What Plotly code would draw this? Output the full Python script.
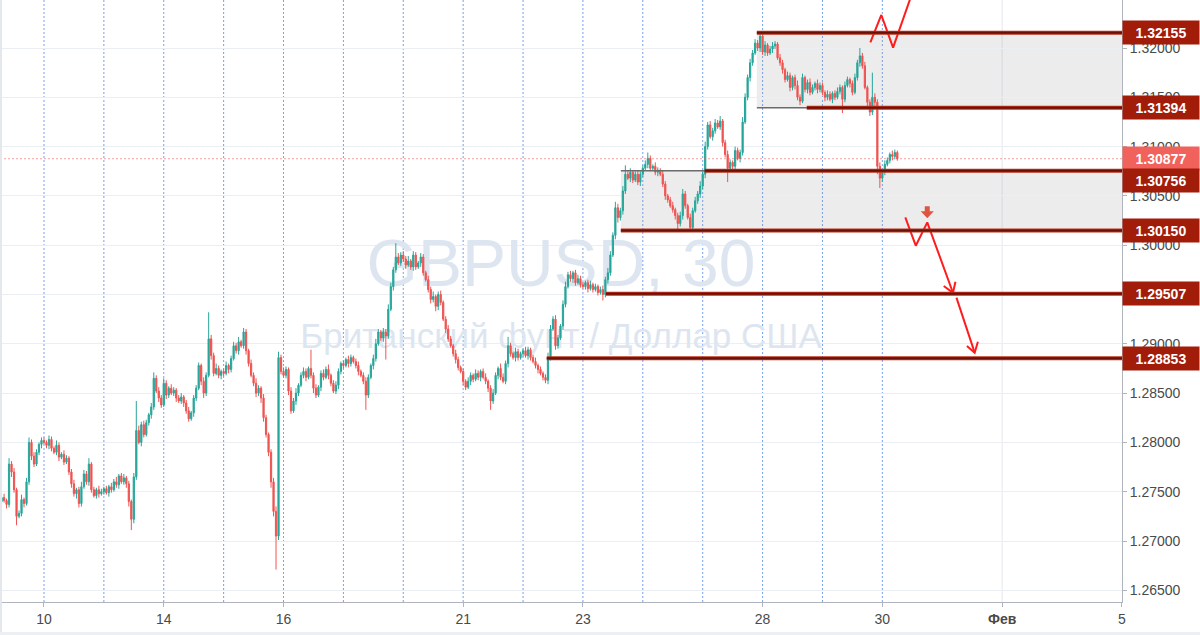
import plotly.graph_objects as go

# ---------------- GBPUSD hourly closes, one list per trading session ----------------
jan09 = [1.2744, 1.2741, 1.2737, 1.2778, 1.2770, 1.2752, 1.2725, 1.2728, 1.2742,
         1.2738, 1.2760, 1.2800, 1.2786, 1.2778, 1.2790, 1.2798, 1.2802]
jan10 = [1.2800, 1.2797, 1.2803, 1.2794, 1.2790, 1.2797, 1.2785, 1.2788, 1.2780, 1.2784,
         1.2770, 1.2758, 1.2748, 1.2752, 1.2738, 1.2755, 1.2768, 1.2760, 1.2778, 1.2752,
         1.2746, 1.2752, 1.2748, 1.2750]
jan11 = [1.2753, 1.2749, 1.2755, 1.2752, 1.2760, 1.2757, 1.2766, 1.2760, 1.2764, 1.2758,
         1.2740, 1.2722, 1.2765, 1.2812, 1.2800, 1.2818, 1.2808, 1.2820, 1.2828, 1.2836,
         1.2865, 1.2852, 1.2845, 1.2838]
jan14 = [1.2860, 1.2848, 1.2855, 1.2850, 1.2853, 1.2845, 1.2842, 1.2846, 1.2840, 1.2832,
         1.2824, 1.2830, 1.2845, 1.2855, 1.2878, 1.2862, 1.2850, 1.2868, 1.2905, 1.2888,
         1.2870, 1.2875, 1.2868, 1.2872]
jan15 = [1.2870, 1.2878, 1.2874, 1.2885, 1.2898, 1.2893, 1.2902, 1.2898, 1.2912, 1.2893,
         1.2880, 1.2868, 1.2860, 1.2850, 1.2855, 1.2845, 1.2825, 1.2808, 1.2790, 1.2760,
         1.2730, 1.2705, 1.2886, 1.2872]
jan16 = [1.2868, 1.2874, 1.2852, 1.2832, 1.2842, 1.2850, 1.2858, 1.2868, 1.2872, 1.2866,
         1.2875, 1.2868, 1.2855, 1.2848, 1.2856, 1.2870, 1.2866, 1.2874, 1.2868, 1.2860,
         1.2852, 1.2858, 1.2872, 1.2880]
jan17 = [1.2878, 1.2884, 1.2880, 1.2886, 1.2882, 1.2878, 1.2872, 1.2868, 1.2862, 1.2848,
         1.2866, 1.2878, 1.2885, 1.2900, 1.2912, 1.2906, 1.2912, 1.2908, 1.2935, 1.2958,
         1.2975, 1.2988, 1.2982, 1.2990]
jan18 = [1.2986, 1.2980, 1.2984, 1.2978, 1.2990, 1.2978, 1.2982, 1.2988, 1.2972, 1.2965,
         1.2955, 1.2945, 1.2948, 1.2938, 1.2950, 1.2942, 1.2925, 1.2915, 1.2905, 1.2898,
         1.2890, 1.2884, 1.2876, 1.2872]
jan21 = [1.2862, 1.2856, 1.2862, 1.2868, 1.2864, 1.2870, 1.2866, 1.2872, 1.2866, 1.2862,
         1.2855, 1.2842, 1.2850, 1.2868, 1.2875, 1.2866, 1.2862, 1.2880, 1.2898, 1.2890,
         1.2886, 1.2892, 1.2886, 1.2890]
jan22 = [1.2893, 1.2888, 1.2894, 1.2886, 1.2882, 1.2878, 1.2874, 1.2870, 1.2866, 1.2863,
         1.2886, 1.2915, 1.2925, 1.2898, 1.2906, 1.2918, 1.2940, 1.2958, 1.2970, 1.2966,
         1.2972, 1.2962, 1.2966, 1.2960]
jan23 = [1.2958, 1.2962, 1.2956, 1.2960, 1.2955, 1.2958, 1.2952, 1.2955, 1.2950, 1.2965,
         1.2972, 1.2990, 1.3010, 1.3038, 1.3028, 1.3035, 1.3055, 1.3072, 1.3068, 1.3074,
         1.3066, 1.3072, 1.3064, 1.3072]
jan24 = [1.3078, 1.3082, 1.3088, 1.3078, 1.3080, 1.3074, 1.3076, 1.3072, 1.3062, 1.3050,
         1.3046, 1.3040, 1.3036, 1.3030, 1.3022, 1.3030, 1.3052, 1.3040, 1.3028, 1.3018,
         1.3035, 1.3045, 1.3052, 1.3060]
jan25 = [1.3072, 1.3100, 1.3122, 1.3110, 1.3116, 1.3124, 1.3120, 1.3126, 1.3104, 1.3092,
         1.3078, 1.3084, 1.3080, 1.3096, 1.3088, 1.3094, 1.3125, 1.3150, 1.3170, 1.3185,
         1.3195, 1.3205, 1.3200, 1.3212]
jan28 = [1.3196, 1.3203, 1.3195, 1.3199, 1.3202, 1.3204, 1.3190, 1.3185, 1.3178, 1.3168,
         1.3172, 1.3160, 1.3170, 1.3162, 1.3150, 1.3146, 1.3170, 1.3158, 1.3165, 1.3155,
         1.3160, 1.3164, 1.3158, 1.3162]
jan29 = [1.3155, 1.3150, 1.3153, 1.3148, 1.3154, 1.3150, 1.3156, 1.3160, 1.3148, 1.3162,
         1.3168, 1.3164, 1.3155, 1.3170, 1.3185, 1.3192, 1.3182, 1.3160, 1.3145, 1.3135,
         1.3150, 1.3145, 1.3080, 1.3068]
jan30 = [1.3074, 1.3082, 1.3086, 1.3092, 1.3090, 1.3094, 1.30877]

first_open = 1.2740

# wick lengths beyond the candle body, in pips (one row per session)
upper_wick_pips = (
    [3, 4, 2, 6, 3, 4, 2, 3, 5, 2, 4, 5, 3, 4, 3, 2, 3]
    + [3, 2, 4, 3, 2, 5, 3, 2, 4, 3, 2, 3, 4, 2, 3, 5, 4, 3, 6, 2, 3, 2, 4, 3]
    + [2, 3, 2, 4, 3, 5, 2, 3, 4, 2, 3, 2, 4, 30, 5, 3, 4, 3, 2, 4, 6, 3, 4, 3]
    + [5, 3, 2, 4, 3, 2, 3, 4, 2, 3, 4, 2, 3, 3, 3, 2, 4, 3, 27, 4, 3, 5, 3, 2]
    + [3, 4, 2, 3, 4, 3, 5, 2, 4, 3, 2, 4, 3, 5, 3, 2, 4, 3, 2, 3, 4, 5, 6, 3]
    + [4, 3, 2, 4, 3, 5, 2, 3, 4, 3, 2, 19, 3, 4, 2, 3, 4, 3, 5, 2, 3, 4, 3, 2]
    + [3, 2, 4, 3, 2, 3, 4, 2, 3, 4, 3, 2, 4, 5, 3, 2, 4, 3, 5, 4, 3, 14, 4, 3]
    + [4, 3, 5, 2, 4, 3, 2, 4, 3, 2, 4, 3, 5, 2, 3, 4, 2, 3, 4, 3, 2, 4, 3, 2]
    + [3, 2, 4, 3, 2, 4, 3, 2, 3, 4, 2, 3, 4, 3, 2, 5, 4, 3, 9, 3, 2, 4, 3, 2]
    + [2, 4, 3, 2, 3, 4, 2, 3, 2, 3, 5, 4, 3, 4, 3, 2, 4, 5, 3, 4, 2, 3, 4, 3]
    + [3, 2, 3, 4, 2, 3, 2, 3, 4, 3, 5, 4, 3, 6, 4, 3, 5, 9, 3, 4, 2, 3, 4, 3]
    + [3, 4, 6, 3, 2, 4, 3, 2, 4, 3, 2, 3, 4, 2, 3, 4, 5, 3, 2, 4, 3, 4, 3, 5]
    + [4, 5, 3, 4, 3, 4, 3, 5, 2, 3, 4, 3, 2, 4, 3, 3, 5, 4, 3, 4, 3, 4, 3, 3.5]
    + [3, 4, 2, 3, 4, 3, 2, 4, 3, 2, 4, 3, 2, 3, 5, 3, 4, 2, 3, 4, 3, 2, 4, 3]
    + [3, 2, 4, 3, 2, 3, 4, 3, 2, 4, 3, 2, 3, 4, 3, 8, 3, 4, 2, 3, 25, 4, 3, 4]
    + [3, 4, 3, 2, 4, 3, 2]
)
lower_wick_pips = (
    [3, 2, 4, 3, 5, 3, 9, 2, 3, 4, 2, 3, 4, 3, 2, 3, 4]
    + [2, 3, 4, 3, 2, 3, 4, 2, 3, 2, 3, 4, 3, 5, 4, 3, 2, 3, 4, 3, 2, 3, 4, 2]
    + [3, 2, 4, 3, 2, 3, 4, 2, 3, 4, 5, 11, 4, 3, 2, 4, 3, 2, 3, 4, 3, 2, 4, 3]
    + [2, 4, 3, 2, 3, 4, 2, 3, 4, 3, 3, 2, 4, 3, 2, 4, 5, 3, 2, 4, 3, 2, 3, 4]
    + [3, 2, 4, 3, 2, 3, 4, 2, 3, 4, 3, 2, 3, 4, 3, 5, 4, 3, 4, 6, 5, 34, 4, 3]
    + [2, 3, 4, 3, 2, 4, 3, 2, 3, 4, 2, 3, 5, 3, 2, 4, 3, 2, 4, 3, 2, 3, 4, 3]
    + [3, 2, 4, 3, 2, 3, 4, 2, 3, 15, 3, 2, 4, 3, 2, 3, 4, 24, 3, 2, 4, 3, 2, 3]
    + [3, 4, 2, 3, 4, 3, 2, 4, 3, 2, 3, 4, 3, 5, 4, 3, 2, 4, 3, 2, 3, 4, 3, 2]
    + [4, 3, 2, 4, 3, 2, 3, 4, 2, 3, 4, 9, 3, 2, 4, 3, 2, 3, 4, 3, 2, 4, 3, 2]
    + [3, 2, 4, 3, 2, 3, 4, 2, 3, 3, 4, 3, 2, 4, 3, 2, 4, 3, 2, 3, 4, 3, 2, 3]
    + [2, 3, 4, 2, 3, 2, 3, 2, 6, 3, 4, 3, 2, 4, 5, 3, 4, 3, 2, 4, 3, 2, 3, 4]
    + [3, 2, 4, 3, 2, 3, 4, 2, 3, 4, 3, 2, 3, 4, 7, 3, 4, 3, 2, 4, 3, 2, 3, 4]
    + [3, 4, 3, 2, 4, 3, 2, 3, 4, 3, 14, 3, 4, 3, 2, 4, 3, 2, 3, 4, 3, 2, 3, 4]
    + [3, 4, 3, 2, 4, 3, 2, 3, 4, 3, 2, 4, 3, 4, 3, 4, 2, 3, 4, 3, 2, 3, 4, 3]
    + [3, 4, 3, 2, 4, 3, 2, 3, 14, 3, 2, 4, 3, 2, 3, 4, 3, 2, 5, 4, 3, 6, 8, 10]
    + [4, 3, 2, 3, 4, 3, 2]
)

# time axis: trading hours counted from the Jan 10 session open
first_hour = -17
tick_hours = [0, 48, 96, 168, 216, 288, 336, 384, 432]
tick_labels = ["10", "14", "16", "21", "23", "28", "30", "<b>Фев</b>", "5"]
session_hours = list(range(0, 337, 24))
month_break_hour = 384

# drawn levels and zones
level_prices = [1.32155, 1.31394, 1.30756, 1.30150, 1.29507, 1.28853]
level_start_hours = [285.7, 305.7, 264.8, 231.2, 225.2, 201.5]
zones = [(285.7, 1.31394, 1.32155, 305.7), (231.2, 1.30150, 1.30756, 264.8)]

# scenario arrows (hour, price)
up_scenario = [(331.2, 1.32058), (335.6, 1.32335), (340.3, 1.32003), (348.4, 1.32588)]
down_scenario = [(345.2, 1.30283), (349.4, 1.29995), (354.0, 1.30232), (364.3, 1.29518)]
down_head_1 = [(360.6, 1.29586), (364.3, 1.29518), (365.3, 1.29630)]
down_leg_2 = [(365.7, 1.29468), (373.0, 1.28910)]
down_head_2 = [(369.9, 1.28978), (373.0, 1.28910), (374.3, 1.29021)]
sell_marker = (354.0, 1.30334)

# ---------------- build OHLC ----------------
PIP = 0.0001
sessions = [jan09, jan10, jan11, jan14, jan15, jan16, jan17, jan18,
            jan21, jan22, jan23, jan24, jan25, jan28, jan29, jan30]
closes = [c for s in sessions for c in s]
opens = [first_open] + closes[:-1]
highs = [max(o, c) + u * PIP for o, c, u in zip(opens, closes, upper_wick_pips)]
lows = [min(o, c) - d * PIP for o, c, d in zip(opens, closes, lower_wick_pips)]
hours = list(range(first_hour, first_hour + len(closes)))
last_price = closes[-1]

# ---------------- layout geometry ----------------
W, H = 1200, 635
M_L, M_R, M_T, M_B = 0, 78, 0, 33
PLOT_W, PLOT_H = W - M_L - M_R, H - M_T - M_B
X_RANGE = [-17.63, 432.05]
Y_RANGE = [1.263813, 1.324868]
hour_per_px = (X_RANGE[1] - X_RANGE[0]) / PLOT_W
price_per_px = (Y_RANGE[1] - Y_RANGE[0]) / PLOT_H

FONT = "Liberation Sans, Arial, sans-serif"
UP, DOWN = "#26a69a", "#ef5350"
LEVEL_DARK, LEVEL_EDGE = "#6a1004", "#b8321d"
ARROW_RED = "#ff1c1c"

fig = go.Figure()

# watermark on the base axes, so the candles (overlay axes) sit on top of it
fig.add_trace(go.Scatter(
    x=[0.5, 0.5], y=[0.553, 0.436], mode="text",
    text=["GBPUSD, 30", "Британский фунт / Доллар США"],
    textposition="middle center",
    textfont=dict(family=FONT, size=[66, 35], color="#dde6f0"),
    hoverinfo="skip", showlegend=False, xaxis="x", yaxis="y",
))

fig.add_trace(go.Candlestick(
    x=hours, open=opens, high=highs, low=lows, close=closes,
    increasing=dict(line=dict(color=UP, width=1), fillcolor=UP),
    decreasing=dict(line=dict(color=DOWN, width=1), fillcolor=DOWN),
    whiskerwidth=0, hoverinfo="skip", showlegend=False,
    xaxis="x2", yaxis="y2",
))


def polyline(points):
    return [p[0] for p in points], [p[1] for p in points]


arrow_x, arrow_y = [], []
for seg in [up_scenario, down_scenario, down_head_1, down_leg_2, down_head_2]:
    sx, sy = polyline(seg)
    arrow_x += sx + [None]
    arrow_y += sy + [None]
fig.add_trace(go.Scatter(
    x=arrow_x, y=arrow_y, mode="lines",
    line=dict(color=ARROW_RED, width=2), hoverinfo="skip", showlegend=False,
    xaxis="x2", yaxis="y2",
))

shapes = []

# session separators
for h in session_hours:
    shapes.append(dict(type="line", xref="x2", yref="paper", x0=h, x1=h, y0=0, y1=1,
                       line=dict(color="rgba(70,130,235,0.75)", width=1, dash="2px,2px"),
                       layer="below"))
shapes.append(dict(type="line", xref="x2", yref="paper", x0=month_break_hour, x1=month_break_hour,
                   y0=0, y1=1, line=dict(color="#e3e8ef", width=1), layer="below"))

# shaded zones
for x_start, p_low, p_high, thick_from in zones:
    shapes.append(dict(type="rect", xref="x2", yref="y2", x0=x_start, x1=X_RANGE[1] + 10,
                       y0=p_low, y1=p_high, fillcolor="rgba(140,140,140,0.17)",
                       line=dict(width=0), layer="below"))

# thin edge pieces where the heavy level lines do not start at the zone edge
thin_edges = [(285.7, 305.7, 1.31394), (231.2, 264.8, 1.30756)]
for x0, x1, p in thin_edges:
    shapes.append(dict(type="line", xref="x2", yref="y2", x0=x0, x1=x1, y0=p, y1=p,
                       line=dict(color="#6b6b6b", width=1.5), layer="above"))

# heavy level lines
for p, x0 in zip(level_prices, level_start_hours):
    shapes.append(dict(type="line", xref="x2", yref="y2", x0=x0, x1=X_RANGE[1] + 10, y0=p, y1=p,
                       line=dict(color=LEVEL_EDGE, width=4), layer="above"))
    shapes.append(dict(type="line", xref="x2", yref="y2", x0=x0, x1=X_RANGE[1] + 10, y0=p, y1=p,
                       line=dict(color=LEVEL_DARK, width=2), layer="above"))

# current price line
shapes.append(dict(type="line", xref="paper", yref="y2", x0=0, x1=1, y0=last_price, y1=last_price,
                   line=dict(color="rgba(239,83,80,0.55)", width=1, dash="2px,2px"), layer="above"))

# small block arrow marking the sell trigger
cx, cy = sell_marker
arrow_px = [(-2.5, -6), (2.5, -6), (2.5, -1), (6.5, -1), (0, 6), (-6.5, -1), (-2.5, -1)]
path = "M " + " L ".join(f"{cx + dx * hour_per_px},{cy - dy * price_per_px}" for dx, dy in arrow_px) + " Z"
shapes.append(dict(type="path", xref="x2", yref="y2", path=path,
                   fillcolor="#de5640", line=dict(width=0), layer="above"))

# outer frame strips
shapes.append(dict(type="rect", xref="paper", yref="paper", x0=0, x1=2 / PLOT_W, y0=-M_B / PLOT_H, y1=1,
                   fillcolor="#e4e7ec", line=dict(width=0), layer="above"))
shapes.append(dict(type="rect", xref="paper", yref="paper", x0=0, x1=W / PLOT_W,
                   y0=-M_B / PLOT_H, y1=(-M_B + 3) / PLOT_H,
                   fillcolor="#eceff3", line=dict(width=0), layer="above"))

# price tags on the right scale
annotations = []


def price_tag(price, bg, yshift=0):
    return dict(xref="paper", yref="y2", x=1, y=price, xanchor="left", yanchor="middle",
                text=f"<b>{price:.5f}</b>", showarrow=False, yshift=yshift,
                font=dict(family=FONT, size=14, color="white"),
                bgcolor=bg, width=72, height=19, borderpad=2, align="center")


annotations.append(price_tag(last_price, "#f0625b"))
for p in level_prices:
    annotations.append(price_tag(p, "#a11d0a", yshift=-10 if p == 1.30756 else 0))

fig.update_layout(
    width=W, height=H,
    margin=dict(l=M_L, r=M_R, t=M_T, b=M_B),
    paper_bgcolor="white", plot_bgcolor="white",
    showlegend=False, hovermode=False, dragmode=False,
    shapes=shapes, annotations=annotations,
    xaxis=dict(range=[0, 1], visible=False, fixedrange=True),
    yaxis=dict(range=[0, 1], visible=False, fixedrange=True),
    xaxis2=dict(
        overlaying="x", anchor="y2", side="bottom", range=X_RANGE,
        tickmode="array", tickvals=tick_hours, ticktext=tick_labels,
        showgrid=False, zeroline=False, rangeslider=dict(visible=False),
        showline=True, linecolor="#b0b5bd", linewidth=1,
        ticks="outside", ticklen=4, tickcolor="#b0b5bd",
        tickfont=dict(family=FONT, size=14, color="#4a4a4a"), fixedrange=True,
    ),
    yaxis2=dict(
        overlaying="y", anchor="x2", side="right", range=Y_RANGE,
        tick0=1.265, dtick=0.005, tickformat=".5f",
        showgrid=True, gridcolor="#ebeff3", gridwidth=1, zeroline=False,
        showline=True, linecolor="#b0b5bd", linewidth=1,
        ticks="outside", ticklen=4, tickcolor="#b0b5bd",
        tickfont=dict(family=FONT, size=14, color="#4a4a4a"), fixedrange=True,
    ),
)

fig.write_html("out.html")
